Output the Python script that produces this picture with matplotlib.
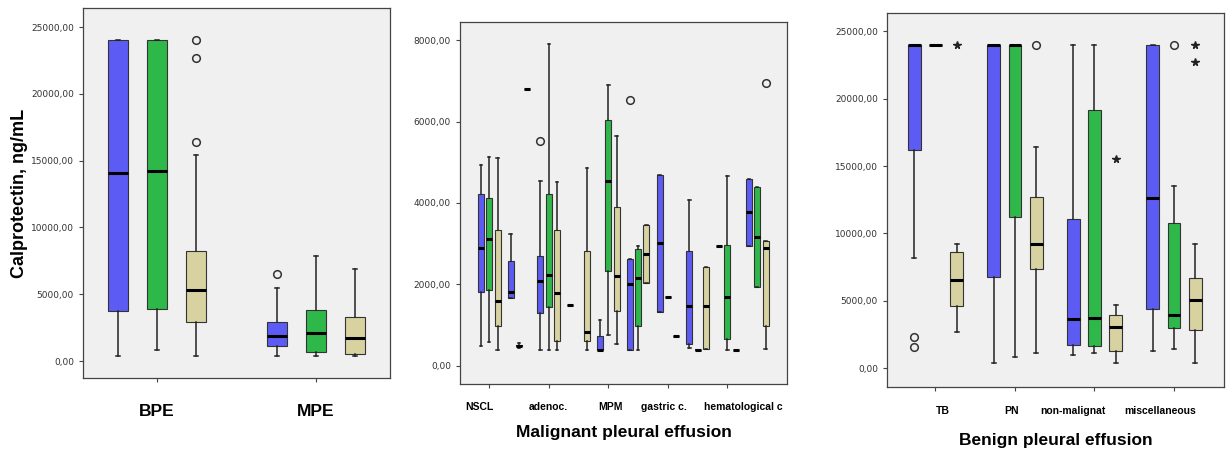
import matplotlib
matplotlib.use('Agg')
import matplotlib.pyplot as plt
from matplotlib.ticker import FuncFormatter, MultipleLocator
from matplotlib.transforms import ScaledTranslation

# colours used by the three series (SPSS style)
colors = ['#5c5cf5', '#2fb84a', '#d8d2a0']

# each box: (low whisker, q1, median, q3, high whisker); None = no data
# ---- left panel: BPE / MPE
left_groups = ['BPE', 'MPE']
left_blue = [(400, 3750, 14050, 24000, 24000), (400, 1100, 1900, 2950, 5500)]
left_green = [(850, 3880, 14250, 24000, 24000), (400, 700, 2100, 3800, 7900)]
left_tan = [(400, 2900, 5300, 8200, 15450), (400, 550, 1700, 3300, 6900)]
# (group, series, value)
left_circles = [(0, 2, 16400), (0, 2, 22700), (0, 2, 24000), (1, 0, 6500)]
left_stars = []

# ---- middle panel: malignant pleural effusion (10 categories, every other labelled)
mid_labels = ['NSCL', 'adenoc.', 'MPM', 'gastric c.', 'hematological c']
mid_blue = [(500, 1810, 2890, 4210, 4925), (1680, 1680, 1815, 2580, 3230),
            (400, 1290, 2085, 2700, 4540), (1500, 1500, 1500, 1500, 1500),
            (400, 400, 400, 745, 1130), (400, 400, 2000, 2625, 2625),
            (1335, 1335, 3010, 4680, 4680), (450, 530, 1470, 2830, 4080),
            (2950, 2950, 2950, 2950, 2950), (2950, 2950, 3780, 4600, 4600)]
mid_green = [(600, 1860, 3125, 4115, 5130), (430, 480, 500, 520, 570),
             (400, 1450, 2225, 4230, 7910), None,
             (760, 2340, 4540, 6040, 6900), (400, 980, 2150, 2880, 2945),
             (1700, 1700, 1700, 1700, 1700), (400, 400, 400, 400, 400),
             (400, 670, 1700, 2960, 4670), (1940, 1940, 3160, 4385, 4385)]
mid_tan = [(400, 990, 1595, 3345, 5100), (6800, 6800, 6800, 6800, 6800),
           (400, 620, 1790, 3340, 4520), (400, 605, 835, 2830, 4850),
           (530, 1360, 2200, 3900, 5650), (2030, 2030, 2750, 3450, 3450),
           (745, 745, 745, 745, 745), (425, 425, 1465, 2440, 2440),
           (400, 400, 400, 400, 400), (420, 990, 2890, 3075, 3075)]
mid_circles = [(2, 0, 5520), (5, 0, 6530), (9, 2, 6950)]
mid_stars = []

# ---- right panel: benign pleural effusion
right_groups = ['TB', 'PN', 'non-malignat', 'miscellaneous']
right_blue = [(8140, 16190, 24000, 24000, 24000), (400, 6780, 24000, 24000, 24000),
              (965, 1730, 3610, 11060, 24000), (1290, 4400, 12600, 24000, 24000)]
right_green = [(24000, 24000, 24000, 24000, 24000), (840, 11190, 24000, 24000, 24000),
               (1140, 1630, 3690, 19180, 24000), (1435, 2995, 3935, 10790, 13540)]
right_tan = [(2700, 4600, 6550, 8600, 9200), (1090, 7380, 9180, 12700, 16430),
             (400, 1290, 3070, 3960, 4650), (400, 2820, 5020, 6700, 9180)]
right_circles = [(0, 0, 2280), (0, 0, 1585), (1, 2, 24000), (3, 1, 24000)]
right_stars = [(0, 2, 24000), (2, 2, 15490), (3, 2, 24000), (3, 2, 22700)]

bold_font = ['Liberation Sans', 'DejaVu Sans']


def comma_fmt(v, pos):
    return f'{v:.2f}'.replace('.', ',')


def draw_panel(ax, series, offset, width, capw, circles, stars):
    for si, stats in enumerate(series):
        for gi, s in enumerate(stats):
            if s is None:
                continue
            lo, q1, med, q3, hi = s
            st = dict(whislo=lo, q1=q1, med=med, q3=q3, whishi=hi, fliers=[])
            ax.bxp([st], positions=[gi + (si - 1) * offset], widths=width,
                   capwidths=capw, patch_artist=True, showfliers=False,
                   manage_ticks=False,
                   boxprops=dict(facecolor=colors[si], edgecolor='#333333', linewidth=0.8),
                   medianprops=dict(color='black', linewidth=2.2, solid_capstyle='butt'),
                   whiskerprops=dict(color='#222222', linewidth=1.1),
                   capprops=dict(color='#222222', linewidth=1.1))
    for gi, si, v in circles:
        ax.plot(gi + (si - 1) * offset, v, 'o', mfc='none', mec='#333333', ms=5.5, mew=1.1)
    for gi, si, v in stars:
        ax.plot(gi + (si - 1) * offset, v, '*', color='#222222', ms=5.5)
    ax.set_facecolor('#f0f0f0')
    for sp in ax.spines.values():
        sp.set_color('#444444')
        sp.set_linewidth(0.9)
    ax.yaxis.set_major_formatter(FuncFormatter(comma_fmt))
    ax.tick_params(axis='y', labelsize=6.5, labelcolor='#333333', length=3, color='#444444')
    ax.tick_params(axis='x', length=3, color='#444444')


def shift_labels(fig, ax, shifts):
    # nudge tick labels sideways (pixels) like the original SPSS layout
    for lab, dx in zip(ax.get_xticklabels(), shifts):
        lab.set_transform(lab.get_transform() + ScaledTranslation(dx / 100, 0, fig.dpi_scale_trans))


fig = plt.figure(figsize=(12.27, 4.5), dpi=100)

# left panel
ax1 = fig.add_axes([0.0676, 0.16, 0.2502, 0.822])
draw_panel(ax1, [left_blue, left_green, left_tan], 0.245, 0.13, 0.025, left_circles, left_stars)
ax1.set_xlim(-0.465, 1.465)
ax1.set_ylim(-1270, 26420)
ax1.yaxis.set_major_locator(MultipleLocator(5000))
ax1.set_xticks(range(len(left_groups)))
ax1.set_xticklabels(left_groups, fontsize=12.5, fontweight='bold', family=bold_font)
ax1.tick_params(axis='x', pad=16)
ax1.set_ylabel('Calprotectin, ng/mL', fontsize=13, fontweight='bold', family=bold_font, labelpad=2)

# middle panel
ax2 = fig.add_axes([0.3749, 0.1467, 0.2665, 0.8044])
draw_panel(ax2, [mid_blue, mid_green, mid_tan], 0.28, 0.2, 0.08, mid_circles, mid_stars)
ax2.set_xlim(-0.98, 10.0)
ax2.set_ylim(-442, 8442)
ax2.yaxis.set_major_locator(MultipleLocator(2000))
ax2.set_xticks(range(0, len(mid_blue), 2))
ax2.set_xticklabels(mid_labels, fontsize=7.5, fontweight='bold', family=bold_font)
ax2.tick_params(axis='x', pad=10)
shift_labels(fig, ax2, [-10, 0, 2, -4, 16])
ax2.set_xlabel('Malignant pleural effusion', fontsize=12.5, fontweight='bold', family=bold_font, labelpad=9)

# right panel
ax3 = fig.add_axes([0.7229, 0.14, 0.2747, 0.831])
draw_panel(ax3, [right_blue, right_green, right_tan], 0.268, 0.16, 0.05, right_circles, right_stars)
ax3.set_xlim(-0.61, 3.63)
ax3.set_ylim(-1410, 26360)
ax3.yaxis.set_major_locator(MultipleLocator(5000))
ax3.set_xticks(range(len(right_groups)))
ax3.set_xticklabels(right_groups, fontsize=7.5, fontweight='bold', family=bold_font)
ax3.tick_params(axis='x', pad=11)
shift_labels(fig, ax3, [7, -3, -22, -14])
ax3.set_xlabel('Benign pleural effusion', fontsize=12.5, fontweight='bold', family=bold_font, labelpad=12)

plt.savefig('out.png', dpi=100)
plt.close()
